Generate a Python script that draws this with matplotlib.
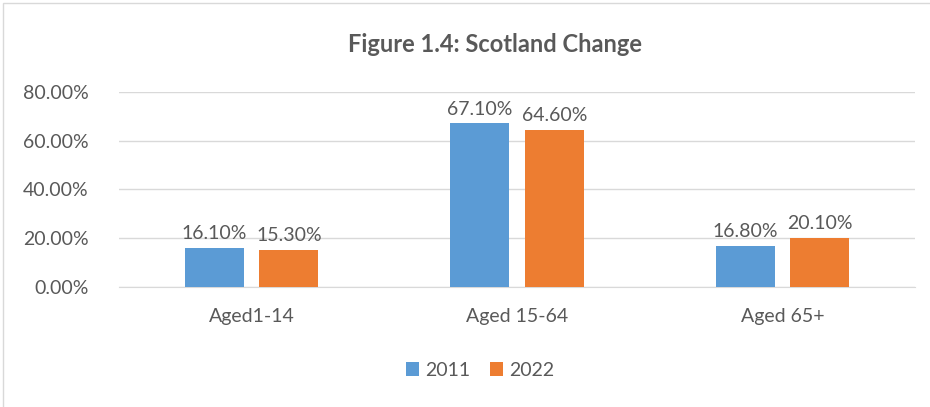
import numpy as np
import matplotlib.pyplot as plt
from matplotlib.patches import Rectangle

# Datos
categories = ["Aged1-14", "Aged 15-64", "Aged 65+"]
years = ["2011", "2022"]
values_2011 = [0.161, 0.671, 0.168]
values_2022 = [0.153, 0.646, 0.201]
yticks = [0.0, 0.2, 0.4, 0.6, 0.8]

text_color = "#595959"
colors = ["#5B9BD5", "#ED7D31"]

plt.rcParams['font.family'] = ['Lato', 'DejaVu Sans']

fig = plt.figure(figsize=(9.3, 4.07), dpi=100)
ax = fig.add_axes([0.128, 0.295, 0.856, 0.479])

x = np.arange(len(categories))
width = 0.222
offset = 0.14
for vals, off, col, lab in zip([values_2011, values_2022], [-offset, offset], colors, years):
    bars = ax.bar(x + off, vals, width=width, color=col, label=lab, zorder=3)
    for b, v in zip(bars, vals):
        ax.annotate(f"{v*100:.2f}%", (b.get_x() + b.get_width() / 2, v),
                    xytext=(0, 4), textcoords="offset points",
                    ha="center", va="bottom", fontsize=14, color=text_color)

ax.set_xlim(-0.5, 2.5)
ax.set_ylim(0, 0.8)
ax.set_yticks(yticks)
ax.set_yticklabels([f"{t*100:.2f}%" for t in yticks])
ax.set_xticks(x)
ax.set_xticklabels(categories)
ax.tick_params(axis="both", length=0, colors=text_color, labelsize=14)
ax.tick_params(axis="x", pad=15)
ax.tick_params(axis="y", pad=22)
ax.grid(axis="y", color="#D9D9D9", linewidth=1, zorder=0)
for s in ["top", "right", "left"]:
    ax.spines[s].set_visible(False)
ax.spines["bottom"].set_color("#D9D9D9")
ax.set_axisbelow(True)

fig.text(0.532, 0.89, "Figure 1.4: Scotland Change", ha="center", va="center",
         fontsize=17, fontweight="bold", color=text_color)

fig.legend(loc="center", bbox_to_anchor=(0.516, 0.09), ncol=2, frameon=False,
           fontsize=14, labelcolor=text_color, handlelength=0.7, handleheight=0.7,
           handletextpad=0.3, columnspacing=1.0)

# Borde del gráfico
fig.patches.append(Rectangle((0.003, -0.05), 1.5, 1.043, transform=fig.transFigure,
                             fill=False, edgecolor="#D9D9D9", linewidth=1))

fig.savefig("out.png", dpi=100)
